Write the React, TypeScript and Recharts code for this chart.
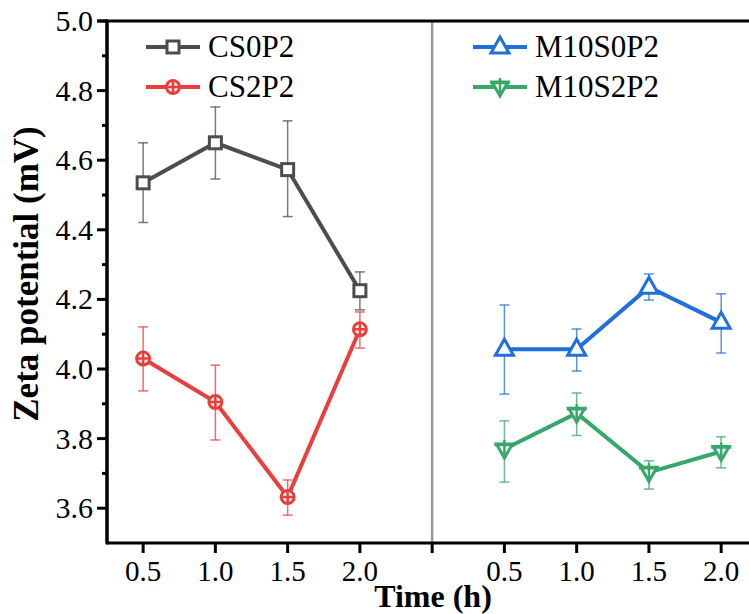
import React from "react";
import {
  ErrorBar,
  Legend,
  Line,
  LineChart,
  ReferenceLine,
  XAxis,
  YAxis,
} from "recharts";

// x slots: 1-4 = left panel (0.5..2.0 h), 5 = divider, 6-9 = right panel
const leftSlots = [1, 2, 3, 4];
const rightSlots = [6, 7, 8, 9];
const xTicks = [1, 2, 3, 4, 5, 6, 7, 8, 9];
const xTickLabels = ["0.5", "1.0", "1.5", "2.0", "", "0.5", "1.0", "1.5", "2.0"];
const yMajor = [3.6, 3.8, 4.0, 4.2, 4.4, 4.6, 4.8, 5.0];
const yMinor = [3.7, 3.9, 4.1, 4.3, 4.5, 4.7, 4.9];

const cs0p2 = [4.535, 4.65, 4.573, 4.225];
const cs0p2Err = [[0.114, 0.115], [0.104, 0.103], [0.135, 0.14], [0.055, 0.054]];
const cs2p2 = [4.03, 3.905, 3.632, 4.114];
const cs2p2Err = [[0.093, 0.091], [0.109, 0.106], [0.052, 0.049], [0.054, 0.05]];
const m10s0p2 = [4.057, 4.057, 4.235, 4.134];
const m10s0p2Err = [[0.129, 0.127], [0.063, 0.058], [0.037, 0.038], [0.088, 0.082]];
const m10s2p2 = [3.77, 3.873, 3.703, 3.763];
const m10s2p2Err = [[0.095, 0.081], [0.064, 0.058], [0.048, 0.033], [0.047, 0.042]];

const GRAY = "#4d4d4d";
const RED = "#ec3d3d";
const BLUE = "#1f6fdc";
const GREEN = "#35a86a";
const FONT = "'Liberation Serif', 'Times New Roman', serif";

const rows = (xs: number[], ys: number[], errs: number[][]) =>
  xs.map((x, i) => ({ x, y: ys[i], err: errs[i] }));

type MarkerProps = { cx?: number; cy?: number; color: string };

const SquareMark = ({ cx = 0, cy = 0, color }: MarkerProps) => (
  <rect x={cx - 6} y={cy - 6} width={12} height={12} fill="#fff" stroke={color} strokeWidth={3} />
);

const CirclePlusMark = ({ cx = 0, cy = 0, color }: MarkerProps) => (
  <g>
    <circle cx={cx} cy={cy} r={6.5} fill="#fff" stroke={color} strokeWidth={3} />
    <path d={`M${cx - 6.5},${cy}H${cx + 6.5}M${cx},${cy - 6.5}V${cy + 6.5}`} stroke={color} strokeWidth={2.5} />
  </g>
);

const TriUpMark = ({ cx = 0, cy = 0, color }: MarkerProps) => (
  <path
    d={`M${cx},${cy - 10}L${cx + 9},${cy + 6}L${cx - 9},${cy + 6}Z`}
    fill="#fff"
    stroke={color}
    strokeWidth={3}
  />
);

const TriDownMark = ({ cx = 0, cy = 0, color }: MarkerProps) => (
  <g>
    <path
      d={`M${cx - 8},${cy - 5}L${cx + 8},${cy - 5}L${cx},${cy + 9}Z`}
      fill="#fff"
      stroke={color}
      strokeWidth={3}
    />
    <path d={`M${cx - 10},${cy - 4}H${cx + 10}M${cx},${cy - 9}V${cy + 8}`} stroke={color} strokeWidth={2.5} />
  </g>
);

const series = [
  { name: "CS0P2", color: GRAY, Mark: SquareMark, data: rows(leftSlots, cs0p2, cs0p2Err), col: 0, row: 0 },
  { name: "CS2P2", color: RED, Mark: CirclePlusMark, data: rows(leftSlots, cs2p2, cs2p2Err), col: 0, row: 1 },
  { name: "M10S0P2", color: BLUE, Mark: TriUpMark, data: rows(rightSlots, m10s0p2, m10s0p2Err), col: 1, row: 0 },
  { name: "M10S2P2", color: GREEN, Mark: TriDownMark, data: rows(rightSlots, m10s2p2, m10s2p2Err), col: 1, row: 1 },
];

const XTick = ({ x, y, payload }: any) => (
  <text x={x} y={y} dy={26} textAnchor="middle" fontFamily={FONT} fontSize={29} fill="#000">
    {xTickLabels[xTicks.indexOf(payload.value)]}
  </text>
);

const YTick = ({ x, y, payload }: any) => {
  const major = yMajor.includes(payload.value);
  return (
    <g>
      <line x1={x + (major ? 4 : 9)} x2={x + 14} y1={y} y2={y} stroke="#000" strokeWidth={3} />
      {major && (
        <text x={x} y={y} dy={10} textAnchor="end" fontFamily={FONT} fontSize={30} fill="#000">
          {payload.value.toFixed(1)}
        </text>
      )}
    </g>
  );
};

const LegendBox = () => (
  <svg width={749} height={120}>
    {series.map((s) => {
      const x0 = s.col === 0 ? 146 : 473;
      const cy = s.row === 0 ? 47 : 87;
      const M = s.Mark;
      return (
        <g key={s.name}>
          <line x1={x0} x2={x0 + 54} y1={cy} y2={cy} stroke={s.color} strokeWidth={4} />
          <M cx={x0 + 27} cy={cy} color={s.color} />
          <text x={x0 + 62} y={cy + 10} fontFamily={FONT} fontSize={31} fill="#000">
            {s.name}
          </text>
        </g>
      );
    })}
  </svg>
);

export default function App() {
  return (
    <div style={{ position: "absolute", left: 0, top: 0, width: 749, height: 614, overflow: "hidden", background: "#fff" }}>
      <LineChart width={749} height={614} margin={{ top: 21, right: 0, bottom: 0, left: 0 }}>
        <XAxis
          dataKey="x"
          type="number"
          domain={[0.5, 9.385]}
          allowDataOverflow
          ticks={xTicks}
          interval={0}
          height={71}
          tickSize={10}
          axisLine={{ stroke: "#000", strokeWidth: 3 }}
          tickLine={{ stroke: "#000", strokeWidth: 3 }}
          tick={<XTick />}
          label={{
            content: () => (
              <text x={433} y={607} textAnchor="middle" fontFamily={FONT} fontSize={32} fontWeight="bold" fill="#000">
                Time (h)
              </text>
            ),
          }}
        />
        <YAxis
          type="number"
          domain={[3.5, 5.0]}
          allowDataOverflow
          ticks={[...yMinor, ...yMajor].sort((a, b) => a - b)}
          interval={0}
          width={107}
          tickSize={10}
          tickMargin={4}
          tickLine={false}
          axisLine={{ stroke: "#000", strokeWidth: 3 }}
          tick={<YTick />}
          label={{
            content: () => (
              <g>
                <line x1={107} x2={107} y1={19.5} y2={544.5} stroke="#000" strokeWidth={3} />
                <text
                  transform="translate(38,274) rotate(-90)"
                  textAnchor="middle"
                  fontFamily={FONT}
                  fontSize={35}
                  fontWeight="bold"
                  fill="#000"
                >
                  Zeta potential (mV)
                </text>
              </g>
            ),
          }}
        />
        <ReferenceLine x={5} stroke="#9a9a9a" strokeWidth={2.5} />
        <ReferenceLine
          segment={[{ x: 0.37, y: 5 }, { x: 9.385, y: 5 }]}
          stroke="#000"
          strokeWidth={3}
          ifOverflow="visible"
        />
        {series.map((s) => (
          <Line
            key={s.name}
            name={s.name}
            data={s.data}
            dataKey="y"
            stroke={s.color}
            strokeWidth={4}
            isAnimationActive={false}
            dot={(p: any) => <s.Mark key={`${s.name}-${p.index}`} cx={p.cx} cy={p.cy} color={s.color} />}
            activeDot={false}
          >
            <ErrorBar dataKey="err" width={5} stroke={s.color} strokeOpacity={0.75} strokeWidth={1.5} direction="y" />
          </Line>
        ))}
        <Legend
          layout="vertical"
          align="center"
          verticalAlign="middle"
          wrapperStyle={{ left: 0, top: 0, width: 749, height: 120 }}
          content={() => <LegendBox />}
        />
      </LineChart>
    </div>
  );
}
